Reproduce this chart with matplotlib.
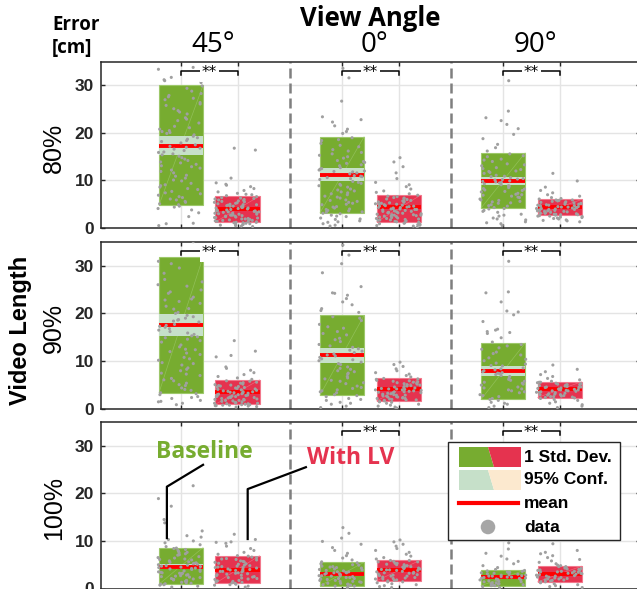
import matplotlib
matplotlib.use('Agg')
import matplotlib.pyplot as plt
import numpy as np
from matplotlib.patches import Rectangle, Polygon
from matplotlib.lines import Line2D

# order of groups in every row: 45 base, 45 LV, 0 base, 0 LV, 90 base, 90 LV
angles = ['45°', '0°', '90°']
lengths = ['80%', '90%', '100%']

# mean, box = 1 std. dev. range, ci = half width of 95% conf. interval (cm)
mean_80 = [17.3, 4.1, 11.2, 4.4, 9.9, 4.5]
sd_lo_80 = [4.8, 1.3, 3.2, 1.3, 4.2, 2.7]
sd_hi_80 = [30.0, 6.7, 19.2, 6.9, 15.8, 6.0]
ci_80 = [2.0, 0.4, 1.4, 0.4, 0.85, 0.3]

mean_90 = [17.6, 3.6, 11.2, 4.1, 8.0, 4.2]
sd_lo_90 = [3.4, 1.0, 2.9, 1.7, 2.0, 2.4]
sd_hi_90 = [31.8, 6.1, 19.6, 6.4, 13.8, 5.7]
ci_90 = [2.3, 0.4, 1.6, 0.4, 1.0, 0.3]

mean_100 = [4.6, 3.9, 3.1, 3.8, 2.4, 3.1]
sd_lo_100 = [0.9, 1.1, 0.6, 1.6, 0.6, 1.4]
sd_hi_100 = [8.6, 6.9, 5.5, 6.0, 3.9, 4.7]
ci_100 = [0.6, 0.5, 0.4, 0.4, 0.3, 0.3]

# significance (**) per angle
sig_80 = [True, True, True]
sig_90 = [True, True, True]
sig_100 = [False, True, True]

# raw errors (cm)
pts_80 = [
    [33.8, 33.4, 31.7, 31.2, 31.0, 29.9, 29.4, 28.3, 27.6, 27.3, 27.0, 26.4, 25.8, 25.1, 24.7, 24.0,
     23.2, 22.6, 22.1, 21.4, 20.8, 20.5, 20.1, 19.6, 19.0, 18.7, 18.2, 17.9, 17.5, 17.2, 16.8, 16.3,
     15.9, 15.4, 14.8, 14.2, 13.7, 13.1, 12.6, 12.2, 11.6, 11.1, 10.5, 9.9, 9.4, 8.9, 8.6, 8.1, 7.7,
     7.2, 6.9, 6.4, 5.9, 5.4, 4.9, 4.6, 4.1, 3.8, 2.4, 1.0, 0.9, 0.5,
     28.8, 26.1, 24.4, 22.9, 21.1, 19.3, 18.4, 17.0, 16.0, 15.1, 14.5, 13.4, 12.9, 11.9, 10.9, 10.1,
     9.1, 8.3, 7.4, 6.6, 6.1, 5.6, 5.1, 4.4, 3.2, 19.9, 20.3, 16.6, 27.9, 30.6, 15.6, 13.9],
    [16.8, 16.4, 10.5, 9.5, 9.2, 9.0, 8.7, 8.3, 7.9, 7.6, 7.3, 7.0, 6.8, 6.6, 6.3, 6.1, 5.9, 5.7,
     5.5, 5.3, 5.1, 4.9, 4.8, 4.6, 4.4, 4.3, 4.1, 4.0, 3.8, 3.7, 3.5, 3.4, 3.2, 3.1, 2.9, 2.8, 2.6,
     2.5, 2.3, 2.2, 2.0, 1.9, 1.8, 1.6, 1.5, 1.4, 1.3, 1.2, 1.1, 1.0, 0.9, 0.8, 0.7, 0.6, 0.5, 0.4,
     0.3, 4.2, 3.6, 2.7, 5.0,
     6.4, 6.0, 5.6, 5.2, 4.7, 4.5, 4.2, 3.9, 3.6, 3.3, 3.0, 2.7, 2.4, 2.1, 1.7, 1.4, 1.1, 0.8, 5.8,
     4.9, 3.4, 2.9, 2.2, 1.6, 1.2, 7.1, 6.2, 5.4, 4.6, 3.8, 3.1, 2.5, 1.9],
    [33.6, 31.6, 26.7, 23.4, 22.8, 22.3, 21.5, 20.8, 20.3, 19.9, 19.0, 18.4, 17.8, 17.1, 16.5, 15.9,
     15.3, 14.7, 14.2, 13.6, 13.1, 12.7, 12.2, 11.8, 11.4, 11.0, 10.6, 10.2, 9.8, 9.4, 9.0, 8.6, 8.2,
     7.8, 7.4, 7.0, 6.7, 6.3, 5.9, 5.6, 5.2, 4.9, 4.5, 4.2, 3.9, 3.6, 3.3, 3.0, 2.7, 2.4, 2.1, 1.8,
     1.5, 1.2, 0.9, 0.6, 0.4, 10.8, 11.9, 12.5,
     18.6, 17.4, 16.2, 15.0, 14.0, 13.3, 12.4, 11.6, 10.9, 10.4, 9.6, 8.9, 8.0, 7.2, 6.5, 5.8, 5.0,
     4.4, 3.7, 3.1, 2.5, 1.9, 1.3, 15.6, 13.8, 12.0, 9.2, 7.6, 5.4, 4.0, 3.4],
    [14.8, 13.9, 12.9, 11.6, 10.4, 9.6, 9.1, 8.7, 8.2, 7.8, 7.5, 7.2, 6.9, 6.6, 6.3, 6.0, 5.8, 5.6,
     5.4, 5.2, 5.0, 4.8, 4.6, 4.5, 4.3, 4.1, 4.0, 3.8, 3.7, 3.5, 3.4, 3.2, 3.1, 2.9, 2.8, 2.6, 2.5,
     2.3, 2.2, 2.0, 1.9, 1.7, 1.6, 1.4, 1.3, 1.1, 1.0, 0.8, 0.7, 0.5, 0.4, 0.2, 4.4, 3.9, 5.1, 2.7,
     6.7, 6.4, 6.1, 5.7, 5.3, 4.9, 4.6, 4.2, 3.9, 3.6, 3.3, 3.0, 2.7, 2.4, 2.1, 1.8, 1.5, 1.2, 0.9,
     0.6, 5.5, 4.7, 4.0, 3.2, 2.5, 1.7, 6.2, 5.0, 4.3, 3.5, 2.8, 2.0],
    [31.0, 24.6, 23.2, 22.6, 21.8, 20.9, 19.7, 18.8, 17.6, 16.9, 16.2, 15.6, 15.0, 14.5, 14.0, 13.5,
     13.1, 12.7, 12.3, 11.9, 11.5, 11.1, 10.8, 10.4, 10.1, 9.8, 9.5, 9.1, 8.8, 8.5, 8.2, 7.9, 7.6,
     7.3, 7.0, 6.7, 6.4, 6.1, 5.8, 5.5, 5.2, 4.9, 4.6, 4.3, 4.0, 3.7, 3.3, 2.9, 2.5, 2.1, 1.7, 1.3,
     0.9, 0.5, 9.9, 10.6,
     15.2, 14.3, 13.3, 12.5, 11.7, 10.9, 10.2, 9.7, 9.3, 8.9, 8.3, 7.7, 7.1, 6.5, 5.9, 5.3, 4.7, 4.1,
     3.5, 2.7, 1.9, 1.1, 12.0, 10.3, 9.6, 8.0, 6.9, 5.6],
    [11.5, 9.9, 8.6, 7.9, 7.4, 7.0, 6.7, 6.4, 6.1, 5.9, 5.7, 5.5, 5.3, 5.1, 5.0, 4.8, 4.7, 4.5, 4.4,
     4.3, 4.1, 4.0, 3.9, 3.7, 3.6, 3.5, 3.3, 3.2, 3.1, 2.9, 2.8, 2.7, 2.5, 2.4, 2.2, 2.1, 1.9, 1.7,
     1.5, 1.3, 4.6, 5.2, 3.8, 4.9,
     6.2, 5.8, 5.6, 5.4, 5.0, 4.7, 4.4, 4.2, 3.9, 3.6, 3.4, 3.1, 2.8, 2.6, 2.3, 2.0, 1.6, 5.9, 5.3,
     4.5, 4.1, 3.7, 3.0, 2.5, 4.8, 4.3, 3.5, 2.9],
]
pts_90 = [
    [35.0, 30.9, 30.4, 28.4, 27.1, 26.6, 25.7, 24.9, 24.2, 23.4, 22.8, 22.1, 21.5, 20.9, 20.2, 19.6,
     19.0, 18.6, 18.2, 17.7, 17.3, 16.8, 16.2, 15.6, 15.1, 14.6, 14.0, 13.4, 12.4, 12.0, 11.4, 10.8,
     10.2, 9.7, 9.2, 8.6, 8.0, 7.5, 7.0, 6.4, 5.9, 5.4, 4.9, 4.4, 3.9, 3.4, 3.0, 2.6, 2.2, 1.8, 1.5,
     1.2, 0.9, 12.5, 18.7,
     29.5, 26.0, 23.0, 21.0, 19.3, 17.5, 16.5, 15.3, 14.3, 13.0, 11.7, 10.5, 9.5, 8.3, 7.3, 6.1,
     5.1, 4.1, 3.2, 2.4, 1.6, 20.0, 18.4, 17.1, 15.9, 14.9, 22.5, 24.5],
    [14.3, 12.1, 11.2, 10.9, 8.8, 8.5, 8.1, 7.6, 7.2, 6.8, 6.5, 6.2, 5.9, 5.6, 5.4, 5.1, 4.9, 4.7,
     4.5, 4.3, 4.1, 3.9, 3.7, 3.5, 3.4, 3.2, 3.0, 2.9, 2.7, 2.6, 2.4, 2.3, 2.1, 2.0, 1.8, 1.7, 1.5,
     1.4, 1.3, 1.2, 1.1, 1.0, 0.9, 0.8, 0.7, 0.6, 0.5, 0.4, 3.6, 2.8,
     5.8, 5.5, 5.2, 4.8, 4.4, 4.0, 3.6, 3.3, 3.0, 2.7, 2.5, 2.2, 1.9, 1.6, 1.3, 1.1, 0.9, 0.7, 5.0,
     4.2, 3.8, 3.1, 2.4, 1.8, 1.2, 0.8, 4.6, 3.4, 2.6, 2.0],
    [34.3, 32.2, 30.4, 28.5, 25.6, 24.3, 24.2, 23.8, 23.1, 22.4, 21.8, 21.0, 20.6, 20.2, 19.3, 18.5,
     17.7, 16.9, 16.2, 15.5, 14.8, 14.1, 13.5, 12.9, 12.3, 11.8, 11.3, 10.8, 10.3, 9.8, 9.3, 8.8,
     8.3, 7.8, 7.3, 6.8, 6.3, 5.8, 5.3, 4.8, 4.3, 3.8, 3.4, 3.0, 2.6, 2.2, 1.8, 1.4, 1.0, 0.6, 0.3,
     11.1,
     19.0, 17.2, 15.8, 14.5, 13.2, 12.1, 11.5, 10.5, 9.5, 8.5, 7.5, 6.5, 5.5, 4.5, 3.6, 2.8, 2.0,
     1.2, 12.6, 10.1, 8.0, 6.0, 4.0],
    [9.8, 9.3, 8.9, 8.4, 8.0, 7.6, 7.3, 7.0, 6.7, 6.4, 6.2, 5.9, 5.7, 5.5, 5.3, 5.1, 4.9, 4.7, 4.5,
     4.3, 4.2, 4.0, 3.8, 3.7, 3.5, 3.4, 3.2, 3.1, 2.9, 2.8, 2.6, 2.5, 2.3, 2.2, 2.0, 1.9, 1.7, 1.6,
     1.4, 1.2, 1.0, 0.8, 0.6, 0.4, 0.2, 4.1, 3.6, 5.0,
     6.3, 6.0, 5.6, 5.2, 4.8, 4.4, 4.0, 3.6, 3.3, 3.0, 2.7, 2.4, 2.1, 1.8, 1.5, 5.8, 5.4, 4.6, 4.2,
     3.9, 3.4, 2.9, 2.5, 2.2, 1.9],
    [30.9, 24.5, 24.3, 22.4, 20.5, 20.3, 19.7, 18.3, 16.7, 16.5, 16.2, 16.0, 15.8, 14.9, 14.0, 13.2,
     12.5, 11.9, 11.3, 10.7, 10.1, 9.6, 9.1, 8.6, 8.2, 7.8, 7.4, 7.0, 6.6, 6.2, 5.8, 5.4, 5.0, 4.6,
     4.2, 3.8, 3.4, 3.0, 2.6, 2.2, 1.8, 1.4, 1.0, 0.6, 0.3, 8.0, 7.5,
     13.5, 12.8, 11.6, 10.4, 9.4, 8.4, 7.6, 6.8, 6.0, 5.2, 4.4, 3.6, 2.8, 2.0, 1.2, 9.0, 7.2, 5.6,
     4.0],
    [9.2, 8.3, 7.8, 7.2, 6.8, 6.4, 6.1, 5.8, 5.6, 5.4, 5.2, 5.0, 4.8, 4.6, 4.5, 4.3, 4.1, 4.0, 3.8,
     3.7, 3.5, 3.4, 3.2, 3.1, 2.9, 2.8, 2.6, 2.4, 2.2, 2.0, 1.8, 1.5, 1.2, 0.9, 0.6, 0.3, 4.2, 3.9,
     4.7, 5.1,
     5.6, 5.3, 4.9, 4.6, 4.4, 4.1, 3.8, 3.6, 3.3, 3.0, 2.7, 2.5, 2.3, 5.5, 5.1, 4.5, 4.0, 3.5, 3.0,
     2.6],
]
pts_100 = [
    [21.6, 18.9, 17.3, 14.5, 13.8, 12.1, 11.1, 10.8, 10.3, 10.0, 9.6, 9.2, 8.8, 8.4, 8.0, 7.6, 7.3,
     7.0, 6.7, 6.4, 6.1, 5.8, 5.5, 5.3, 5.1, 4.9, 4.7, 4.5, 4.3, 4.1, 3.9, 3.7, 3.5, 3.3, 3.1, 2.9,
     2.7, 2.5, 2.3, 2.1, 1.9, 1.7, 1.5, 1.3, 1.1, 0.9, 0.7, 0.5, 0.3, 4.6, 5.0, 3.2,
     8.5, 8.2, 7.8, 7.1, 6.5, 6.0, 5.6, 5.2, 4.8, 4.4, 4.0, 3.6, 3.2, 2.8, 2.4, 2.0, 1.6, 1.2, 0.8,
     7.5, 6.2, 5.4, 4.2, 3.4, 2.6, 1.8, 1.0],
    [11.4, 10.3, 9.8, 9.7, 9.5, 8.9, 8.4, 8.0, 7.6, 7.2, 6.9, 6.6, 6.3, 6.0, 5.8, 5.5, 5.3, 5.1, 4.9,
     4.7, 4.5, 4.3, 4.1, 3.9, 3.7, 3.5, 3.3, 3.1, 2.9, 2.7, 2.5, 2.3, 2.1, 1.9, 1.7, 1.5, 1.3, 1.1,
     0.9, 0.7, 0.5, 0.3, 4.0, 3.6, 4.4,
     6.8, 6.5, 6.1, 5.7, 5.2, 4.8, 4.4, 4.0, 3.6, 3.2, 2.8, 2.4, 2.0, 1.6, 1.2, 0.8, 6.2, 5.6, 4.6,
     3.8, 3.0, 2.2, 1.4],
    [12.8, 11.6, 10.6, 9.9, 9.3, 8.6, 8.0, 7.4, 6.9, 6.4, 6.0, 5.6, 5.2, 4.9, 4.6, 4.3, 4.0, 3.7,
     3.5, 3.3, 3.1, 2.9, 2.7, 2.5, 2.3, 2.1, 1.9, 1.7, 1.5, 1.3, 1.1, 0.9, 0.7, 0.5, 0.3, 0.1, 3.0,
     2.6, 3.4,
     5.4, 5.0, 4.7, 4.4, 4.1, 3.8, 3.5, 3.2, 2.9, 2.6, 2.3, 2.0, 1.7, 1.4, 1.1, 0.8, 0.5, 4.5, 3.9,
     3.3, 2.7, 2.1, 1.5, 0.9],
    [10.2, 9.8, 9.3, 8.9, 8.4, 8.0, 7.6, 7.2, 6.8, 6.5, 6.2, 5.9, 5.6, 5.3, 5.0, 4.8, 4.6, 4.4, 4.2,
     4.0, 3.8, 3.6, 3.4, 3.2, 3.0, 2.8, 2.6, 2.4, 2.2, 2.0, 1.8, 1.6, 1.4, 1.2, 1.0, 0.8, 0.6, 0.4,
     0.2, 3.9, 4.3,
     5.9, 5.6, 5.3, 5.0, 4.7, 4.4, 4.1, 3.8, 3.5, 3.2, 2.9, 2.6, 2.3, 2.0, 1.7, 1.4, 5.7, 5.1, 4.5,
     3.9, 3.3, 2.7, 2.1],
    [9.6, 8.3, 7.4, 6.8, 6.2, 5.7, 5.2, 4.8, 4.4, 4.0, 3.7, 3.4, 3.1, 2.8, 2.6, 2.4, 2.2, 2.0, 1.8,
     1.6, 1.4, 1.2, 1.0, 0.8, 0.6, 0.4, 0.2, 2.5, 2.9, 3.3,
     3.8, 3.6, 3.3, 3.0, 2.7, 2.4, 2.1, 1.8, 1.5, 1.2, 0.9, 0.6, 3.5, 3.2, 2.6, 2.3, 1.9, 1.4, 1.0,
     0.7, 2.8, 2.2],
    [9.4, 8.0, 7.6, 7.3, 6.9, 6.5, 6.1, 5.8, 5.5, 5.2, 4.9, 4.6, 4.4, 4.2, 4.0, 3.8, 3.6, 3.4, 3.2,
     3.0, 2.8, 2.6, 2.4, 2.2, 2.0, 1.8, 1.6, 1.4, 1.2, 1.0, 0.8, 0.6, 0.4, 0.2, 3.1, 3.5,
     4.6, 4.4, 4.1, 3.8, 3.5, 3.2, 2.9, 2.6, 2.3, 2.0, 1.7, 1.4, 4.3, 3.9, 3.6, 3.3, 2.7, 2.4, 2.1,
     1.8, 4.8],
]

rows = [
    (mean_80, sd_lo_80, sd_hi_80, ci_80, sig_80, pts_80),
    (mean_90, sd_lo_90, sd_hi_90, ci_90, sig_90, pts_90),
    (mean_100, sd_lo_100, sd_hi_100, ci_100, sig_100, pts_100),
]

# colours
GREEN = '#77AC30'
GREEN_EDGE = '#9DC86A'
GREEN_CI = '#C6E0C9'
RED = '#E5334F'
RED_EDGE = '#F2788C'
BEIGE = '#FCE9CF'
DOT = '#A0A0A0'
DARK = '#262626'

W, H = 637, 589
fig = plt.figure(figsize=(W / 100, H / 100), dpi=100)

# x layout: pair spacing 1, group spacing 2.85
grp = np.arange(3) * 2.85
xpos = np.ravel([[g, g + 1] for g in grp])
hw = 0.39
seps = (grp[:-1] + 1 + grp[1:]) / 2

# axes placement in pixels: left, right, top, bottom
axes_px = [(101, 639.6, 61.7, 228), (101, 639.6, 241.7, 409), (101, 639.6, 422, 588.5)]
axs = []
for (l, r, t, b) in axes_px:
    ax = fig.add_axes([l / W, 1 - b / H, (r - l) / W, (b - t) / H])
    axs.append(ax)


def jitter(n, seed):
    # scattered horizontal offsets for the dots (position only)
    k = np.arange(n) + seed * 17.0
    return (np.modf(np.abs(np.sin(k * 12.9898 + 78.233) * 43758.5453))[0] - 0.5) * 0.82


for ax, (mean, lo, hi, ci, sig, pts), lab in zip(axs, rows, lengths):
    ax.set_xlim(-1.416, 8.116)
    ax.set_ylim(0, 35)
    ax.set_yticks([0, 10, 20, 30])
    ax.set_xticks(xpos)
    ax.set_xticklabels([])
    ax.grid(True, color='#E4E4E4', lw=1.0, zorder=0)
    ax.set_axisbelow(True)
    ax.tick_params(direction='in', length=3, top=True, right=True, colors=DARK,
                   labelsize=12.5, pad=5, width=1.0)
    for t in ax.get_yticklabels():
        t.set_fontweight('bold')
        t.set_family('Liberation Sans')
    for s in ax.spines.values():
        s.set_color(DARK)
        s.set_linewidth(1.1)
    for sx in seps:
        ax.axvline(sx, color='#7F7F7F', lw=1.8, dashes=(4, 2), zorder=1)

    for i, x in enumerate(xpos):
        base = i % 2 == 0
        fc = GREEN if base else RED
        ec = GREEN_EDGE if base else RED_EDGE
        ax.add_patch(Rectangle((x - hw, lo[i]), 2 * hw, hi[i] - lo[i], facecolor=fc,
                               edgecolor=ec, lw=0.8, zorder=2))
        # faint diagonal seam inside the patch
        ax.plot([x - hw, x + hw], [lo[i], hi[i]], color=ec, lw=0.5, alpha=0.7, zorder=2.1)
        if base:
            ax.add_patch(Rectangle((x - hw, mean[i] - ci[i]), 2 * hw, 2 * ci[i],
                                   facecolor=GREEN_CI, edgecolor='none', zorder=2.2))
        ax.plot([x - hw, x + hw], [mean[i], mean[i]], color='#FF0000', lw=2.8,
                solid_capstyle='butt', zorder=3)
        y = np.array(pts[i])
        ax.scatter(x + jitter(len(y), i + 1), y, s=5, color=DOT, edgecolors='none', zorder=4)

    # significance brackets
    for g, on in enumerate(sig):
        if not on:
            continue
        x0, x1 = grp[g], grp[g] + 1
        yb = 33.1
        ax.plot([x0, x0, x1, x1], [yb - 0.9, yb, yb, yb - 0.9], color='black', lw=1.1,
                zorder=5, clip_on=False)
        ax.text((x0 + x1) / 2, yb - 0.4, '**', ha='center', va='center', fontsize=11,
                family='DejaVu Sans', zorder=6,
                bbox=dict(facecolor='white', edgecolor='none', pad=1.2))

# row labels
for (l, r, t, b), lab in zip(axes_px, lengths):
    fig.text(54 / W, 1 - ((t + b) / 2 + 3) / H, lab, rotation=90, ha='center', va='center',
             fontsize=18, family='Liberation Sans')

fig.text(21 / W, 1 - 330 / H, 'Video Length', rotation=90, ha='center', va='center',
         fontsize=17, fontweight='bold', family='Liberation Sans')
fig.text(52 / W, 1 - 25 / H, 'Error', ha='left', va='center', fontsize=13.5,
         fontweight='bold', family='Open Sans')
fig.text(52 / W, 1 - 48 / H, '[cm]', ha='left', va='center', fontsize=13.5,
         fontweight='bold', family='Open Sans')
fig.text(370 / W, 1 - 18 / H, 'View Angle', ha='center', va='center', fontsize=18.5,
         fontweight='bold', family='Open Sans')
for g, a in zip(grp, angles):
    px = 181 + (g + 0.5) * 56.5 + 4
    fig.text(px / W, 1 - 45 / H, a, ha='center', va='center', fontsize=20, family='Open Sans')

# callouts in the bottom panel
ax3 = axs[2]
ax3.plot([-0.25, -0.25, 0.39], [10.6, 21.4, 26.0], color='black', lw=1.6, zorder=6)
ax3.plot([1.18, 1.18, 2.21], [10.4, 20.9, 25.5], color='black', lw=1.6, zorder=6)
ax3.text(0.42, 28.6, 'Baseline', color=GREEN, fontsize=16.5, fontweight='bold',
         family='Open Sans', ha='center', va='center', zorder=7)
ax3.text(3.0, 27.5, 'With LV', color=RED, fontsize=16.5, fontweight='bold',
         family='Open Sans', ha='center', va='center', zorder=7)


# legend drawn in figure pixels
def fp(x, y):
    return (x / W, 1 - y / H)


tf = fig.transFigure
leg = [Rectangle(fp(448, 540), 172 / W, 98 / H, facecolor='white', edgecolor=DARK, lw=1.0,
                 transform=tf, zorder=8)]
leg.append(Polygon([fp(459, 447), fp(488, 447), fp(494, 467), fp(459, 467)], closed=True,
                   facecolor=GREEN, edgecolor='none', transform=tf, zorder=9))
leg.append(Polygon([fp(488, 447), fp(521, 447), fp(521, 467), fp(494, 467)], closed=True,
                   facecolor=RED, edgecolor='none', transform=tf, zorder=9))
leg.append(Polygon([fp(459, 470), fp(488, 470), fp(494, 490), fp(459, 490)], closed=True,
                   facecolor=GREEN_CI, edgecolor='none', transform=tf, zorder=9))
leg.append(Polygon([fp(488, 470), fp(521, 470), fp(521, 490), fp(494, 490)], closed=True,
                   facecolor=BEIGE, edgecolor='none', transform=tf, zorder=9))
for p in leg:
    p.set_clip_on(False)
    ax3.add_artist(p)
ln = Line2D([459 / W, 518 / W], [1 - 503 / H, 1 - 503 / H], color='#FF0000', lw=3,
            transform=tf, zorder=9, clip_on=False)
ax3.add_artist(ln)
ax3.scatter([488 / W], [1 - 527 / H], s=110, color='#A6A6A6', edgecolors='none',
            transform=tf, zorder=9, clip_on=False)
for yy, s in zip([457, 480, 503, 527], ['1 Std. Dev.', '95% Conf.', 'mean', 'data']):
    ax3.text(524 / W, 1 - yy / H, s, transform=tf, ha='left', va='center', fontsize=12.5,
             fontweight='bold', family='Liberation Sans', zorder=10, clip_on=False)

fig.savefig('out.png', dpi=100)
